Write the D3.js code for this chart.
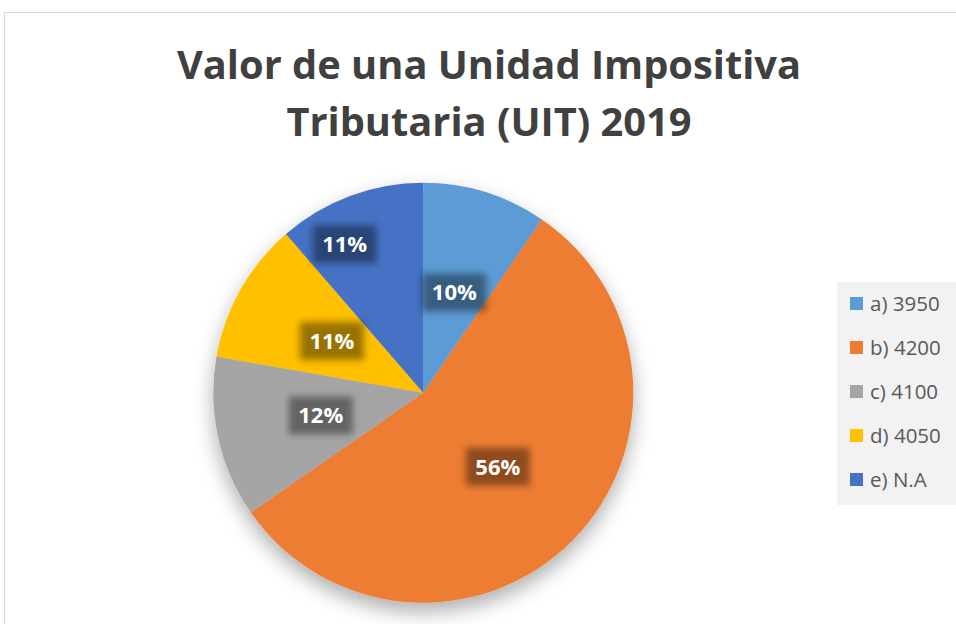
<!DOCTYPE html>
<head>
  <meta charset="utf-8">
  <script src="https://d3js.org/d3.v7.min.js"></script>
  <style>
    body { margin: 0; background: #fff; }
    svg { display: block; }
  </style>
</head>
<body>
<div id="chart"></div>
<script>
// chart data
var titleLines = ["Valor de una Unidad Impositiva", "Tributaria (UIT) 2019"];
var categories = ["a) 3950", "b) 4200", "c) 4100", "d) 4050", "e) N.A"];
var shares = [9.55, 55.78, 12.42, 10.9, 11.35];
var colors = ["#5B9BD5", "#ED7D31", "#A5A5A5", "#FFC000", "#4472C4"];

var width = 956, height = 624;
var cx = 423.3, cy = 392.7, radius = 210;

var svg = d3.select("#chart").append("svg")
    .attr("width", width)
    .attr("height", height);

var defs = svg.append("defs");
// soft shadow under the pie
var shadow = defs.append("filter").attr("id", "pieShadow")
    .attr("x", "-30%").attr("y", "-30%").attr("width", "160%").attr("height", "160%");
shadow.append("feDropShadow")
    .attr("dx", 0).attr("dy", 9)
    .attr("stdDeviation", 10)
    .attr("flood-color", "#000")
    .attr("flood-opacity", 0.32);
// blurred box behind the labels
var blur = defs.append("filter").attr("id", "boxBlur")
    .attr("x", "-40%").attr("y", "-40%").attr("width", "180%").attr("height", "180%");
blur.append("feGaussianBlur").attr("stdDeviation", 3.5);

// chart area border
svg.append("rect")
    .attr("x", 4.5).attr("y", 12.5)
    .attr("width", 1000).attr("height", 700)
    .attr("fill", "#fff")
    .attr("stroke", "#d9d9d9");

// title
var title = svg.append("g").attr("class", "title");
titleLines.forEach(function(t, i) {
  title.append("text")
    .attr("x", 489)
    .attr("y", 79 + i * 57)
    .attr("text-anchor", "middle")
    .style("font-family", "'Open Sans', sans-serif")
    .style("font-weight", "bold")
    .style("font-size", "39.8px")
    .style("fill", "#404040")
    .text(t);
});

// pie
var pie = d3.pie().sort(null).value(function(d) { return d; });
var arc = d3.arc().innerRadius(0).outerRadius(radius);
var arcs = pie(shares);

var g = svg.append("g").attr("transform", "translate(" + cx + "," + cy + ")");

g.append("g")
  .attr("filter", "url(#pieShadow)")
  .selectAll("path")
  .data(arcs)
  .enter()
  .append("path")
  .attr("d", arc)
  .attr("fill", function(d, i) { return colors[i]; });

// labels: centred at half radius, last one pushed outward (best fit)
var labelArc = d3.arc().innerRadius(radius * 0.5).outerRadius(radius * 0.5);
function labelPos(d, i) {
  if (i === arcs.length - 1) {
    var a = (d.startAngle + d.endAngle) / 2 - 7.5 * Math.PI / 180;
    var r = radius * 0.8;
    return [r * Math.sin(a), -r * Math.cos(a)];
  }
  return labelArc.centroid(d);
}

var labels = g.selectAll(".lbl")
  .data(arcs)
  .enter()
  .append("g")
  .attr("class", "lbl")
  .attr("transform", function(d, i) { return "translate(" + labelPos(d, i) + ")"; });

labels.append("rect")
  .attr("x", -32).attr("y", -19)
  .attr("width", 64).attr("height", 38)
  .attr("fill", "#000")
  .attr("fill-opacity", 0.4)
  .attr("filter", "url(#boxBlur)");

labels.append("text")
  .attr("text-anchor", "middle")
  .attr("dy", "0.36em")
  .style("font-family", "'Open Sans', sans-serif")
  .style("font-weight", "bold")
  .style("font-size", "22px")
  .style("fill", "#fff")
  .text(function(d) { return Math.round(d.data) + "%"; });

// legend
var legendG = svg.append("g").attr("class", "legend");
legendG.append("rect")
  .attr("x", 837).attr("y", 282)
  .attr("width", 130).attr("height", 223)
  .attr("fill", "#f2f2f2");

var item = legendG.selectAll(".item")
  .data(categories)
  .enter()
  .append("g")
  .attr("class", "item")
  .attr("transform", function(d, i) { return "translate(850," + (303.5 + i * 44) + ")"; });

item.append("rect")
  .attr("x", 0).attr("y", -6.5)
  .attr("width", 13).attr("height", 13)
  .attr("fill", function(d, i) { return colors[i]; });

item.append("text")
  .attr("x", 20)
  .attr("dy", "0.36em")
  .style("font-family", "'Open Sans', sans-serif")
  .style("font-size", "20.5px")
  .style("fill", "#595959")
  .text(function(d) { return d; });
</script>
</body>
</html>
